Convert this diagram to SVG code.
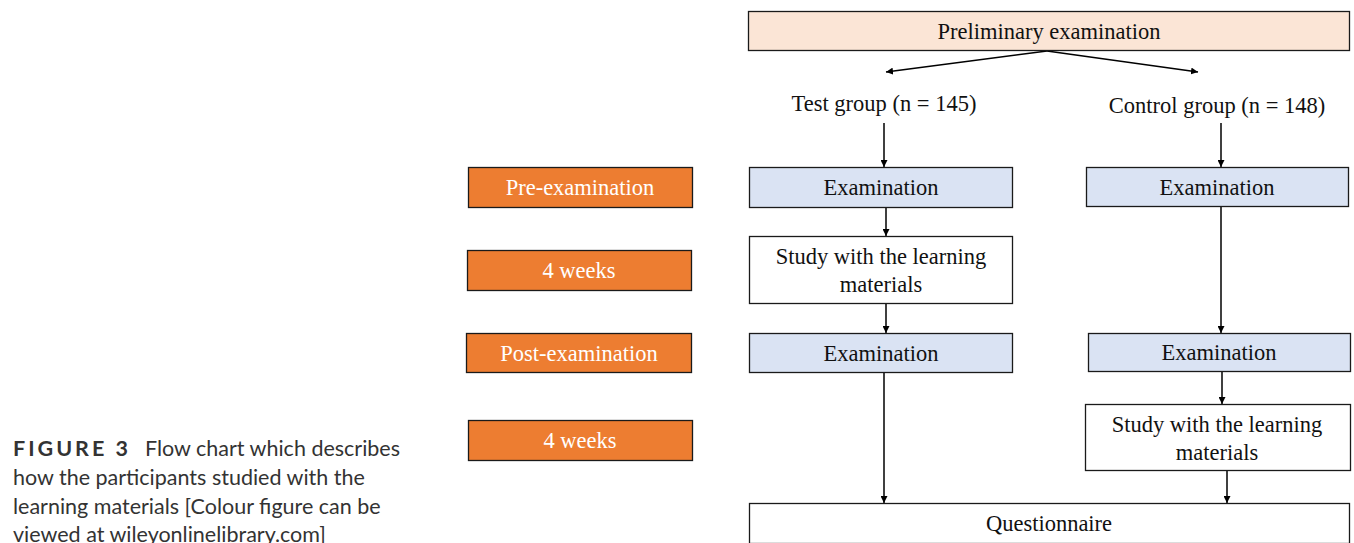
<svg xmlns="http://www.w3.org/2000/svg" width="1354" height="543" viewBox="0 0 1354 543">
<style>
.box{stroke:#1a1a1a;stroke-width:1.3}
.orange{fill:#ed7d31}
.blue{fill:#dae3f3}
.white{fill:#ffffff}
.peach{fill:#fbe5d6}
.t{font-family:"Liberation Serif",serif;font-size:22.5px;fill:#111;text-anchor:middle}
.tw{font-family:"Liberation Serif",serif;font-size:22.5px;fill:#ffffff;text-anchor:middle}
.cap{font-family:Lato,"Noto Sans",sans-serif;font-size:21.5px;fill:#333}
.conn{stroke:#000;stroke-width:1.5;fill:none;marker-end:url(#ah)}
</style>
<defs>
<marker id="ah" viewBox="0 0 10 10" refX="10" refY="5" markerWidth="7" markerHeight="7" markerUnits="userSpaceOnUse" orient="auto">
<path d="M0,0 L10,5 L0,10 z" fill="#000"/>
</marker>
</defs>
<rect width="1354" height="543" fill="#fff"/>

<g id="caption">
<text class="cap" x="13" y="456"><tspan font-weight="bold" letter-spacing="3">FIGURE 3</tspan><tspan x="145">Flow chart which describes</tspan></text>
<text class="cap" x="13" y="485">how the participants studied with the</text>
<text class="cap" x="13" y="514">learning materials [Colour figure can be</text>
<text class="cap" x="13" y="542">viewed at wileyonlinelibrary.com]</text>
</g>

<g id="connectors">
<line class="conn" x1="1047" y1="51" x2="886" y2="72"/>
<line class="conn" x1="1047" y1="51" x2="1198" y2="72"/>
<line class="conn" x1="884" y1="123" x2="884" y2="167"/>
<line class="conn" x1="1221" y1="123" x2="1221" y2="167"/>
<line class="conn" x1="886" y1="207" x2="886" y2="236"/>
<line class="conn" x1="886" y1="303" x2="886" y2="333"/>
<line class="conn" x1="1221" y1="206" x2="1221" y2="333"/>
<line class="conn" x1="1222" y1="371" x2="1222" y2="404"/>
<line class="conn" x1="1227" y1="470" x2="1227" y2="503"/>
<line class="conn" x1="884" y1="372" x2="884" y2="503"/>
</g>

<g id="preliminary">
<rect class="box peach" x="748.5" y="11.5" width="601" height="39"/>
<text class="t" x="1049" y="39">Preliminary examination</text>
</g>
<g id="test-group"><text class="t" x="884" y="111">Test group (n = 145)</text></g>
<g id="control-group"><text class="t" x="1217" y="113">Control group (n = 148)</text></g>

<g id="pre-examination">
<rect class="box orange" x="468.5" y="167.5" width="224" height="40"/>
<text class="tw" x="580" y="195">Pre-examination</text>
</g>
<g id="weeks-1">
<rect class="box orange" x="467.5" y="250.5" width="224" height="40"/>
<text class="tw" x="579" y="278">4 weeks</text>
</g>
<g id="post-examination">
<rect class="box orange" x="466.5" y="333.5" width="225" height="39"/>
<text class="tw" x="579" y="361">Post-examination</text>
</g>
<g id="weeks-2">
<rect class="box orange" x="468.5" y="420.5" width="224" height="40"/>
<text class="tw" x="580" y="448">4 weeks</text>
</g>

<g id="test-exam-1">
<rect class="box blue" x="749.5" y="167.5" width="263" height="40"/>
<text class="t" x="881" y="195">Examination</text>
</g>
<g id="control-exam-1">
<rect class="box blue" x="1086.5" y="167.5" width="262" height="39"/>
<text class="t" x="1217" y="195">Examination</text>
</g>
<g id="test-study">
<rect class="box white" x="749.5" y="236.5" width="263" height="67"/>
<text class="t" x="881" y="264">Study with the learning</text>
<text class="t" x="881" y="292">materials</text>
</g>
<g id="test-exam-2">
<rect class="box blue" x="749.5" y="333.5" width="263" height="39"/>
<text class="t" x="881" y="361">Examination</text>
</g>
<g id="control-exam-2">
<rect class="box blue" x="1088.5" y="333.5" width="262" height="38"/>
<text class="t" x="1219" y="360">Examination</text>
</g>
<g id="control-study">
<rect class="box white" x="1085.5" y="404.5" width="265" height="66"/>
<text class="t" x="1217" y="432">Study with the learning</text>
<text class="t" x="1217" y="460">materials</text>
</g>
<g id="questionnaire">
<rect class="box white" x="749.5" y="503.5" width="600" height="40"/>
<text class="t" x="1049" y="531">Questionnaire</text>
</g>
</svg>
